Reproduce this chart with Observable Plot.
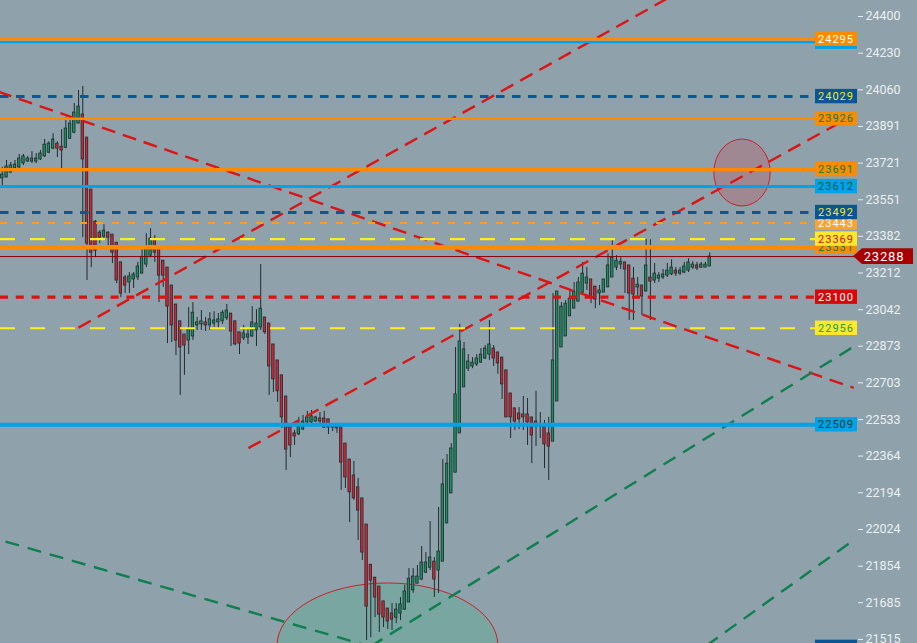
<!DOCTYPE html>
<html><head><meta charset="utf-8">
<script src="https://cdn.jsdelivr.net/npm/d3@7"></script>
<script src="https://cdn.jsdelivr.net/npm/@observablehq/plot@0.6"></script>
<style>html,body{margin:0;padding:0;background:#8fa1aa;overflow:hidden}svg{display:block}</style>
</head><body>
<script>
// ---- candle data (index 0..167) ----
const open = [
23650,23654,23677,23696,23701,23719,23728,23728,23728,23738,
23752,23769,23788,23811,23797,23792,23834,23862,23904,23946,
23839,23598,23450,23399,23380,23399,23390,23352,23261,23191,
23168,23182,23191,23209,23251,23292,23366,23325,23269,23237,
23154,23066,22988,22927,22899,22918,22969,22974,22983,22969,
22978,22983,22988,23002,23024,22988,22937,22909,22913,22918,
22946,22960,23006,22978,22881,22807,22738,22640,22501,22469,
22464,22487,22520,22520,22524,22538,22538,22534,22506,22506,
22501,22422,22348,22274,22219,22168,22047,21861,21801,21760,
21691,21658,21635,21616,21635,21653,21686,21742,21773,21792,
21824,21847,21875,21834,21875,22052,22191,22287,22469,22682,
22769,22779,22788,22797,22816,22834,22862,22844,22820,22761,
22654,22585,22561,22557,22557,22543,22524,22510,22510,22469,
22431,22617,22867,22918,23011,23047,23079,23121,23163,23182,
23149,23117,23121,23145,23191,23237,23251,23261,23247,23186,
23145,23154,23126,23191,23177,23186,23191,23200,23205,23223,
23209,23214,23223,23237,23247,23237,23237,23242];
const high = [
23701,23733,23724,23733,23761,23761,23752,23774,23765,23779,
23830,23820,23857,23820,23876,23932,23932,23997,24057,24076,
23839,23598,23455,23408,23436,23403,23390,23352,23261,23200,
23214,23214,23261,23329,23394,23417,23385,23325,23269,23237,
23154,23066,22988,22927,23052,23075,23006,23038,23006,23028,
23033,23024,23038,23066,23024,22988,22937,22969,22950,23056,
23042,23251,23006,22978,22881,22807,22738,22640,22501,22483,
22543,22552,22571,22575,22548,22566,22571,22534,22506,22506,
22501,22422,22348,22339,22261,22168,22047,21861,21801,21760,
21691,21658,21681,21681,21709,21765,21843,21843,21857,21945,
21917,22061,21894,22126,22348,22371,22422,22867,22974,22890,
22834,22820,22834,22862,22876,22992,22876,22844,22820,22761,
22654,22585,22589,22640,22631,22543,22664,22566,22529,22543,
23117,23126,23075,23084,23135,23168,23191,23261,23237,23182,
23149,23154,23182,23301,23362,23292,23283,23261,23247,23237,
23191,23154,23366,23366,23256,23214,23228,23256,23273,23237,
23237,23261,23278,23264,23261,23261,23261,23305];
const low = [
23617,23654,23673,23696,23696,23710,23724,23719,23719,23733,
23747,23765,23783,23747,23682,23788,23830,23857,23904,23376,
23177,23237,23283,23348,23371,23329,23256,23163,23098,23117,
23117,23140,23177,23209,23237,23283,23261,23075,23145,22885,
22890,22830,22645,22738,22834,22899,22946,22946,22941,22946,
22960,22955,22974,22992,22872,22876,22834,22899,22881,22913,
22872,22946,22927,22645,22659,22613,22492,22297,22357,22413,
22459,22483,22515,22515,22520,22515,22492,22464,22478,22469,
22205,22214,22056,22159,21973,21880,21510,21523,21616,21547,
21570,21561,21556,21588,21602,21649,21686,21728,21773,21787,
21820,21834,21709,21728,21875,22052,22191,22287,22469,22682,
22756,22769,22779,22793,22811,22807,22779,22743,22626,22543,
22445,22483,22487,22483,22413,22329,22408,22445,22306,22251,
22431,22617,22867,22918,23011,23047,23079,23117,23131,23070,
23047,23061,23121,23145,23191,23223,23228,23117,22992,22992,
23098,23015,23126,22992,23163,23168,23182,23191,23200,23196,
23200,23209,23214,23228,23223,23233,23237,23242];
const close = [
23668,23705,23710,23714,23742,23752,23742,23742,23742,23765,
23806,23811,23830,23788,23779,23881,23904,23955,23983,23738,
23348,23306,23315,23376,23408,23376,23306,23177,23117,23154,
23196,23205,23242,23287,23334,23371,23306,23200,23200,23056,
22969,22899,22867,22876,22950,23028,22983,22988,22969,22997,
22992,22997,23028,23038,22941,22881,22885,22932,22927,22983,
22978,23047,22937,22779,22719,22664,22543,22394,22413,22455,
22501,22524,22543,22548,22543,22524,22496,22496,22496,22492,
22334,22265,22196,22168,22112,21917,21667,21787,21709,21630,
21616,21598,21607,21653,21677,21737,21796,21806,21806,21871,
21871,21894,21792,21922,22233,22329,22399,22650,22895,22858,
22802,22797,22816,22834,22862,22881,22816,22793,22696,22543,
22543,22524,22534,22543,22520,22459,22501,22501,22418,22408,
22807,23126,23056,23070,23093,23126,23168,23209,23191,23107,
23089,23131,23182,23247,23283,23269,23264,23228,23117,23112,
23158,23103,23247,23172,23209,23200,23205,23223,23237,23209,
23223,23242,23261,23251,23233,23251,23251,23288];

// ---- axis ticks ----
const tickValues = [24400,24230,24060,23891,23721,23551,23382,23212,23042,22873,22703,22533,22364,22194,22024,21854,21685,21515];

// ---- horizontal levels ----
const levelPrices = [24295, 24281, 24029, 23926, 23691, 23612, 23492, 23443, 23369, 23331, 23100, 22956, 22509, 21478];
const levelShowText = [true, false, true, true, true, true, true, true, true, true, true, true, true, false];
const lastPrice = 23288;

// ---- trend lines (candle index, price) ----
const trendI1 = [-1, 18, 58.1, 0.76, 86.9, 166.2];
const trendP1 = [24052, 22959, 22401, 21968, 21482, 21486];
const trendI2 = [201, 170, 200.4, 86.9, 200.4, 200.5];
const trendP2 = [22680, 24626, 23937, 21482, 22864, 21968];
const trendKind = ["red", "red", "red", "green", "green", "green"];

// ---- highlighted zones (bounding boxes: candle index, price) ----
const zoneI1 = [168.1, 65.0];
const zoneI2 = [181.4, 117.1];
const zoneP1 = [23520, 21199];
const zoneP2 = [23830, 21774];

// ---- styles (kept apart from the data) ----
const levelStyle = [
  {stroke:"#ff8a00", w:2.7, dash:null, fill:"#fb8c00", text:"#ffffff"},
  {stroke:"#00a2e8", w:2.4, dash:null, fill:"#00a2e8", text:"#0a5a3a"},
  {stroke:"#0b5797", w:3, dash:"8.5,7.5", fill:"#0b5595", text:"#f2e629"},
  {stroke:"#ff8a00", w:2.4, dash:null, fill:"#fb8c00", text:"#0c7a3c"},
  {stroke:"#ff8a00", w:3.3, dash:null, fill:"#fb8c00", text:"#0c7a3c"},
  {stroke:"#00a2e8", w:3, dash:null, fill:"#00a2e8", text:"#0a5a3a"},
  {stroke:"#0b5797", w:3, dash:"8.5,7.5", fill:"#0b5595", text:"#f2e629"},
  {stroke:"#ff9c1c", w:2, dash:"7,9", fill:"#fba234", text:"#ffffff"},
  {stroke:"#ffee1e", w:2.2, dash:"15,15", fill:"#fde82e", text:"#d40f0f"},
  {stroke:"#ff8a00", w:4.6, dash:null, fill:"#fb8c00", text:"#0c7a3c"},
  {stroke:"#e01010", w:3.4, dash:"8,7.8", fill:"#d60808", text:"#ffffff"},
  {stroke:"#ffee1e", w:2.2, dash:"15,15", fill:"#fde82e", text:"#12a050"},
  {stroke:"#00a2e8", w:4, dash:null, fill:"#00a2e8", text:"#063d38"},
  {stroke:"#0b5797", w:3, dash:"8.5,7.5", fill:"#0b5595", text:"#f2e629"}
];
const zoneFill = ["#a08893", "#79a6a0"];

const candles = open.map((o, i) => ({i, open: o, high: high[i], low: low[i], close: close[i]}));
const trends = trendI1.map((_, k) => ({i1: trendI1[k], p1: trendP1[k], i2: trendI2[k], p2: trendP2[k], kind: trendKind[k]}));

function zonesMark(index, scales) {
  const g = d3.create("svg:g");
  zoneI1.forEach((_, k) => {
    const xa = scales.x(zoneI1[k]), xb = scales.x(zoneI2[k]);
    const ya = scales.y(zoneP1[k]), yb = scales.y(zoneP2[k]);
    g.append("ellipse")
      .attr("cx", (xa + xb) / 2).attr("cy", (ya + yb) / 2)
      .attr("rx", Math.abs(xb - xa) / 2).attr("ry", Math.abs(yb - ya) / 2)
      .attr("fill", zoneFill[k]).attr("stroke", "#cc1f2b").attr("stroke-width", 1);
  });
  return g.node();
}

function tagsMark(index, scales, values, dims) {
  const xr = dims.width - dims.marginRight;
  const g = d3.create("svg:g").attr("font-family", "Roboto, sans-serif");
  const order = levelPrices.map((p, k) => k).sort((a, b) => levelPrices[a] - levelPrices[b]);
  order.forEach(k => {
    const y = scales.y(levelPrices[k]);
    const st = levelStyle[k];
    g.append("rect").attr("x", xr - 42).attr("y", y - 7.2).attr("width", 42).attr("height", 14.4).attr("fill", st.fill);
    if (levelShowText[k]) {
      g.append("text").attr("x", xr - 21).attr("y", y).attr("dy", "0.36em")
        .attr("text-anchor", "middle").attr("font-size", 11).attr("letter-spacing", "1px")
        .attr("fill", st.text).text(String(levelPrices[k]));
    }
  });
  const y = scales.y(lastPrice);
  g.append("path")
    .attr("d", `M${xr - 4},${y} L${xr + 5},${y - 7.8} L${dims.width - 4},${y - 7.8} L${dims.width - 4},${y + 7.8} L${xr + 5},${y + 7.8} Z`)
    .attr("fill", "#a80000");
  g.append("text").attr("x", xr + 27).attr("y", y).attr("dy", "0.36em")
    .attr("text-anchor", "middle").attr("font-size", 13).attr("letter-spacing", "0.8px")
    .attr("fill", "#ffffff").text(String(lastPrice));
  return g.node();
}

const levelRules = levelPrices.map((p, k) => Plot.ruleY([p], {
  stroke: levelStyle[k].stroke, strokeWidth: levelStyle[k].w,
  strokeDasharray: levelStyle[k].dash || undefined
}));

const chart = Plot.plot({
  width: 917, height: 643,
  marginTop: 0, marginBottom: 0, marginLeft: 0, marginRight: 60,
  style: {background: "#8fa1aa", color: "#eaeff2", fontFamily: "Roboto, sans-serif", fontSize: "12.5px"},
  x: {domain: [0, 167], range: [1.8, 709.2], axis: null},
  y: {domain: [21496, 24474], axis: "right", ticks: tickValues, tickFormat: d => String(d), tickSize: 5, tickPadding: 3, label: null},
  marks: [
    zonesMark,
    Plot.ruleX(candles, {x: "i", y1: "low", y2: "high", stroke: "#222b30", strokeWidth: 1}),
    Plot.rect(candles, {x1: d => d.i - 0.5, x2: d => d.i + 0.5, insetLeft: 0.9, insetRight: 0.9,
      y1: "open", y2: "close", fill: d => d.close >= d.open ? "#16915d" : "#d52332",
      stroke: "#222b30", strokeWidth: 0.8}),
    Plot.link(trends.filter(d => d.kind === "red"), {x1: "i1", y1: "p1", x2: "i2", y2: "p2",
      stroke: "#dc1414", strokeWidth: 2.4, strokeDasharray: "14,8", clip: true}),
    Plot.link(trends.filter(d => d.kind === "green"), {x1: "i1", y1: "p1", x2: "i2", y2: "p2",
      stroke: "#0f7f4f", strokeWidth: 2.4, strokeDasharray: "14,9", clip: true}),
    ...levelRules.slice(0, 13),
    Plot.ruleY([lastPrice], {stroke: "#8b0000", strokeWidth: 1}),
    tagsMark
  ]
});
document.body.appendChild(chart);
</script>
</body></html>
